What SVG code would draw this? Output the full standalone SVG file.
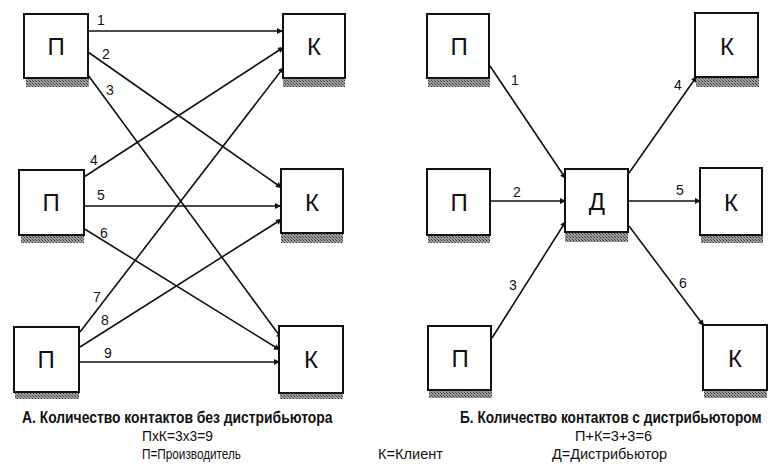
<svg xmlns="http://www.w3.org/2000/svg" width="778" height="472" viewBox="0 0 778 472">
<defs>
<pattern id="hatch" width="3" height="3" patternUnits="userSpaceOnUse">
<rect width="3" height="3" fill="#a0a0a0"/>
<rect width="1" height="1" fill="#333"/>
<rect x="2" y="2" width="1" height="1" fill="#444"/>
<rect x="1" y="1" width="1" height="1" fill="#777"/>
</pattern>
<marker id="arr" viewBox="0 0 10 10" refX="10" refY="5" markerWidth="7" markerHeight="6" markerUnits="userSpaceOnUse" orient="auto">
<path d="M0,0 L10,5 L0,10 z" fill="#111"/>
</marker>
</defs>
<style>
.box{fill:#fff;stroke:#111;stroke-width:2}
.sh{fill:url(#hatch)}
.lt{font-family:"Liberation Sans",Arial,sans-serif;font-size:24px;fill:#111;text-anchor:middle}
.ln{stroke:#111;stroke-width:1.6;fill:none;marker-end:url(#arr)}
.num{font-family:"Liberation Sans",Arial,sans-serif;font-size:14px;fill:#111}
.ttl{font-family:"Liberation Sans",Arial,sans-serif;font-size:16px;font-weight:bold;fill:#111}
.sub{font-family:"Liberation Sans",Arial,sans-serif;font-size:15.5px;fill:#111}
</style>
<rect width="778" height="472" fill="#fff"/>

<g id="connectors">
<line class="ln" x1="88" y1="31" x2="283" y2="31"/>
<line class="ln" x1="88" y1="52" x2="282" y2="188"/>
<line class="ln" x1="88" y1="75" x2="282" y2="339"/>
<line class="ln" x1="84" y1="177" x2="284" y2="47"/>
<line class="ln" x1="84" y1="206" x2="281" y2="206"/>
<line class="ln" x1="83" y1="228" x2="280" y2="350"/>
<line class="ln" x1="80" y1="332" x2="284" y2="67"/>
<line class="ln" x1="80" y1="347" x2="282" y2="219"/>
<line class="ln" x1="80" y1="362" x2="280" y2="362"/>

<line class="ln" x1="490" y1="66" x2="566" y2="179"/>
<line class="ln" x1="491" y1="201" x2="566" y2="201"/>
<line class="ln" x1="492" y1="338" x2="566" y2="221"/>
<line class="ln" x1="629" y1="173" x2="697" y2="76"/>
<line class="ln" x1="629" y1="201" x2="701" y2="201"/>
<line class="ln" x1="629" y1="226" x2="704" y2="326"/>

<text class="num" x="97" y="25">1</text>
<text class="num" x="102" y="59">2</text>
<text class="num" x="106" y="95">3</text>
<text class="num" x="90" y="165">4</text>
<text class="num" x="97" y="200">5</text>
<text class="num" x="100" y="238">6</text>
<text class="num" x="93" y="302">7</text>
<text class="num" x="101" y="325">8</text>
<text class="num" x="104" y="358">9</text>

<text class="num" x="511" y="85">1</text>
<text class="num" x="513" y="197">2</text>
<text class="num" x="509" y="290">3</text>
<text class="num" x="674" y="90">4</text>
<text class="num" x="676" y="195">5</text>
<text class="num" x="679" y="288">6</text>
</g>

<g id="pA1"><rect class="sh" x="26" y="76" width="63" height="11"/><rect class="box" x="24" y="14" width="64" height="64"/><text class="lt" x="56" y="55">П</text></g>
<g id="kA1"><rect class="sh" x="283" y="76" width="62" height="11"/><rect class="box" x="283" y="14" width="62" height="64"/><text class="lt" x="314" y="55">К</text></g>
<g id="pA2"><rect class="sh" x="21" y="233" width="63" height="10"/><rect class="box" x="19" y="170" width="65" height="65"/><text class="lt" x="51" y="211">П</text></g>
<g id="kA2"><rect class="sh" x="281" y="231" width="62" height="12"/><rect class="box" x="281" y="169" width="62" height="64"/><text class="lt" x="312" y="211">К</text></g>
<g id="pA3"><rect class="sh" x="15" y="390" width="64" height="9"/><rect class="box" x="14" y="327" width="65" height="65"/><text class="lt" x="46" y="368">П</text></g>
<g id="kA3"><rect class="sh" x="280" y="390" width="63" height="9"/><rect class="box" x="279" y="326" width="64" height="67"/><text class="lt" x="311" y="368">К</text></g>

<g id="pB1"><rect class="sh" x="428" y="76" width="62" height="11"/><rect class="box" x="427" y="14" width="62" height="64"/><text class="lt" x="459" y="55">П</text></g>
<g id="pB2"><rect class="sh" x="428" y="233" width="62" height="10"/><rect class="box" x="427" y="169" width="63" height="66"/><text class="lt" x="459" y="211">П</text></g>
<g id="pB3"><rect class="sh" x="429" y="388" width="63" height="10"/><rect class="box" x="428" y="326" width="63" height="64"/><text class="lt" x="460" y="367">П</text></g>
<g id="dB"><rect class="sh" x="565" y="230" width="63" height="12"/><rect class="box" x="565" y="169" width="63" height="63"/><text class="lt" x="597" y="210">Д</text></g>
<g id="kB1"><rect class="sh" x="696" y="75" width="63" height="12"/><rect class="box" x="695" y="13" width="63" height="64"/><text class="lt" x="727" y="55">К</text></g>
<g id="kB2"><rect class="sh" x="701" y="233" width="62" height="10"/><rect class="box" x="700" y="168" width="62" height="67"/><text class="lt" x="731" y="211">К</text></g>
<g id="kB3"><rect class="sh" x="704" y="388" width="63" height="10"/><rect class="box" x="703" y="325" width="64" height="65"/><text class="lt" x="735" y="367">К</text></g>

<g id="captions">
<text class="ttl" transform="translate(22 423) scale(0.8 1)" x="0" y="0" textLength="388" lengthAdjust="spacingAndGlyphs">А. Количество контактов без дистрибьютора</text>
<text class="sub" x="142" y="441" textLength="71" lengthAdjust="spacingAndGlyphs">ПхК=3х3=9</text>
<text class="sub" x="142" y="459" textLength="99" lengthAdjust="spacingAndGlyphs">П=Производитель</text>
<text class="sub" x="378" y="459" textLength="65" lengthAdjust="spacingAndGlyphs">К=Клиент</text>
<text class="ttl" transform="translate(460 423) scale(0.8 1)" x="0" y="0" textLength="377" lengthAdjust="spacingAndGlyphs">Б. Количество контактов с дистрибьютором</text>
<text class="sub" x="575" y="441" textLength="77" lengthAdjust="spacingAndGlyphs">П+К=3+3=6</text>
<text class="sub" x="552" y="459" textLength="115" lengthAdjust="spacingAndGlyphs">Д=Дистрибьютор</text>
</g>
</svg>
